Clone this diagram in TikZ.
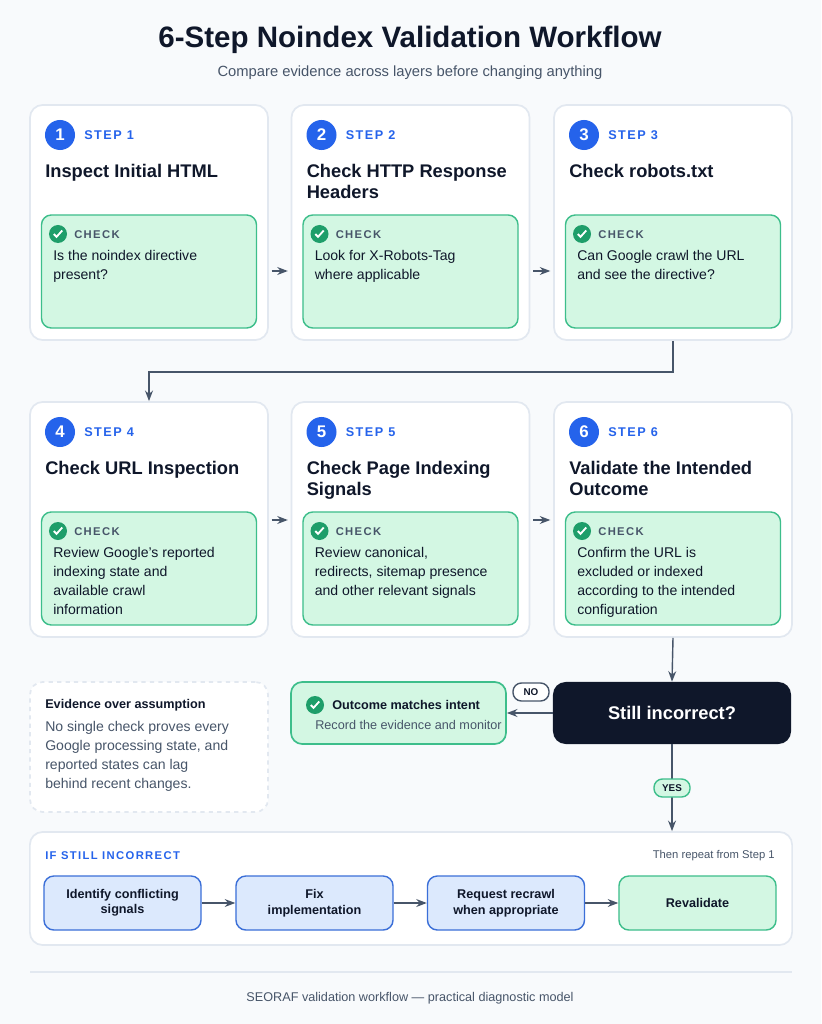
\documentclass[tikz,border=0pt]{standalone}
\usepackage{fontspec}
\setmainfont{Liberation Sans}
\newfontfamily\spaced[LetterSpace=12]{Liberation Sans}
\usetikzlibrary{arrows.meta,positioning}
\definecolor{bgc}{HTML}{F8FAFC}
\definecolor{ink}{HTML}{0F172A}
\definecolor{slate}{HTML}{475569}
\definecolor{rim}{HTML}{E2E8F0}
\definecolor{stepblue}{HTML}{2563EB}
\definecolor{greenfill}{HTML}{D3F7E3}
\definecolor{greenrim}{HTML}{3DBE8B}
\definecolor{tick}{HTML}{1E9E6A}
\definecolor{bluefill}{HTML}{DCE9FD}
\definecolor{bluerim}{HTML}{3B6FD8}
\tikzset{>=Stealth,
  card/.style={draw=rim,line width=1.2pt,fill=white,rounded corners=9pt,minimum width=5.95cm,minimum height=5.875cm},
  checkbox/.style={draw=greenrim,line width=1pt,fill=greenfill,rounded corners=7pt,minimum width=5.375cm,minimum height=2.825cm},
  num/.style={circle,fill=stepblue,text=white,font=\bfseries\large,inner sep=0pt,minimum size=0.75cm},
  steplab/.style={anchor=west,text=stepblue,font=\spaced\bfseries\small,inner sep=0pt},
  ttl/.style={anchor=north west,text=ink,font=\bfseries\fontsize{13}{15}\selectfont,align=left,inner sep=0pt},
  tickc/.style={circle,fill=tick,inner sep=0pt,minimum size=0.45cm},
  chklab/.style={anchor=west,text=slate,font=\spaced\bfseries\footnotesize,inner sep=0pt},
  body/.style={anchor=north west,text=ink,font=\fontsize{10}{13.5}\selectfont,align=left,inner sep=0pt},
  arr/.style={->,draw=slate,line width=1pt},
  pill/.style={draw=#1,line width=1pt,rounded corners=6pt,fill=white,font=\bfseries\scriptsize,text=ink,minimum width=0.9cm,minimum height=0.45cm,inner sep=1pt},
  fixbox/.style={draw=bluerim,line width=1pt,fill=bluefill,rounded corners=7pt,minimum width=3.925cm,minimum height=1.35cm,font=\bfseries\small,text=ink,align=center}
}
\newcommand{\checkmk}[1]{\draw[white,line width=1.3pt] ([xshift=-3pt]#1.center) -- ([xshift=-1pt,yshift=-2pt]#1.center) -- ([xshift=3pt,yshift=2.5pt]#1.center);}
\begin{document}
\begin{tikzpicture}[x=0.025cm,y=-0.025cm]
\fill[bgc] (0,0) rectangle (821,1024);
\useasboundingbox (0,0) rectangle (821,1024);

% Header
\node[font=\bfseries\fontsize{21}{24}\selectfont,text=ink] (title) at (410,40) {6-Step Noindex Validation Workflow};
\node[font=\fontsize{10.5}{12}\selectfont,text=slate] (sub) at (410,73) {Compare evidence across layers before changing anything};

% Step cards
\foreach \i/\x/\y/\t/\b in {
  1/149/222.5/{Inspect Initial HTML}/{Is the noindex directive\\present?},
  2/410.5/222.5/{Check HTTP Response\\Headers}/{Look for X-Robots-Tag\\where applicable},
  3/673/222.5/{Check robots.txt}/{Can Google crawl the URL\\and see the directive?},
  4/149/519.5/{Check URL Inspection}/{Review Google's reported\\indexing state and\\available crawl\\information},
  5/410.5/519.5/{Check Page Indexing\\Signals}/{Review canonical,\\redirects, sitemap presence\\and other relevant signals},
  6/673/519.5/{Validate the Intended\\Outcome}/{Confirm the URL is\\excluded or indexed\\according to the intended\\configuration}}{
  \node[card] (c\i) at (\x,\y) {};
  \node[num] (n\i) at (\x-89,\y-87.5) {\i};
  \node[steplab] (s\i) at (\x-65,\y-87.5) {STEP \i};
  \node[ttl] (t\i) at (\x-104,\y-59) {\t};
  \node[checkbox] (k\i) at (\x,\y+49) {};
  \node[tickc] (v\i) at (\x-91,\y+11.5) {};
  \checkmk{v\i}
  \node[chklab] (l\i) at (\x-75,\y+12.5) {CHECK};
  \node[body] (b\i) at (\x-96,\y+28) {\b};
}

% Flow between steps
\draw[arr,shorten <=2pt,shorten >=2pt] (c1.east |- 0,271) -- (c2.west |- 0,271);
\draw[arr,shorten <=2pt,shorten >=2pt] (c2.east |- 0,271) -- (c3.west |- 0,271);
\draw[arr] (c3.south) -- ++(0,31) -| (c4.north);
\draw[arr,shorten <=2pt,shorten >=2pt] (c4.east |- 0,520) -- (c5.west |- 0,520);
\draw[arr,shorten <=2pt,shorten >=2pt] (c5.east |- 0,520) -- (c6.west |- 0,520);

% Decision
\node[fill=ink,rounded corners=9pt,minimum width=5.95cm,minimum height=1.55cm,text=white,font=\bfseries\fontsize{13}{15}\selectfont] (dec) at (672,713) {Still incorrect?};
\draw[arr] (c6.south) -- (dec.north);
\node[draw=greenrim,line width=1.2pt,fill=greenfill,rounded corners=8pt,minimum width=5.375cm,minimum height=1.55cm] (ok) at (398.5,713) {};
\node[tickc] (vok) at (315,705) {};
\checkmk{vok}
\node[anchor=west,font=\bfseries\small,text=ink,inner sep=0pt] (okt) at (332,705) {Outcome matches intent};
\node[anchor=west,font=\fontsize{9}{11}\selectfont,text=slate,inner sep=0pt] (oks) at (315,725) {Record the evidence and monitor};
\draw[arr] (dec.west) -- (ok.east);
\node[pill=slate] (no) at (531,692) {NO};

% Evidence note
\node[draw=rim,line width=1.2pt,dashed,fill=white,rounded corners=9pt,minimum width=5.95cm,minimum height=3.25cm] (ev) at (149,747) {};
\node[anchor=north west,font=\bfseries\small,text=ink,inner sep=0pt] (evt) at (45,699) {Evidence over assumption};
\node[anchor=north west,font=\fontsize{10}{13.5}\selectfont,text=slate,align=left,inner sep=0pt] (evb) at (45,721) {No single check proves every\\Google processing state, and\\reported states can lag\\behind recent changes.};

% Remediation panel
\node[card,minimum width=19.05cm,minimum height=2.825cm] (fix) at (411,888.5) {};
\draw[arr] (dec.south) -- (fix.north -| dec.south);
\node[pill=greenrim,fill=greenfill] (yes) at (672,788) {YES};
\node[anchor=west,font=\spaced\bfseries\footnotesize,text=stepblue,inner sep=0pt] (ifl) at (45,856) {IF STILL INCORRECT};
\node[anchor=east,font=\footnotesize,text=slate,inner sep=0pt] (rep) at (775,856) {Then repeat from Step 1};
\node[fixbox] (f1) at (122.5,903) {Identify conflicting\\signals};
\node[fixbox] (f2) at (314.5,903) {Fix\\implementation};
\node[fixbox] (f3) at (506,903) {Request recrawl\\when appropriate};
\node[fixbox,draw=greenrim,fill=greenfill] (f4) at (697.5,903) {Revalidate};
\draw[arr] (f1) -- (f2);
\draw[arr] (f2) -- (f3);
\draw[arr] (f3) -- (f4);

% Footer
\draw[rim,line width=1pt] (30,972) -- (792,972);
\node[font=\small,text=slate] (foot) at (410,998) {SEORAF validation workflow — practical diagnostic model};
\end{tikzpicture}
\end{document}
